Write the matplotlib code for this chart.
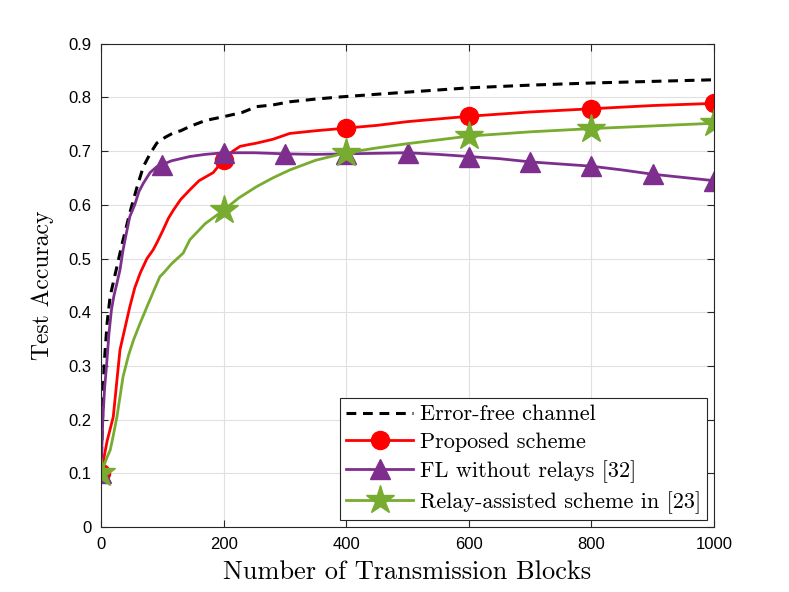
import matplotlib
matplotlib.use("Agg")
import matplotlib.pyplot as plt
import numpy as np

# values
blocks_ef = [0, 5, 10, 15, 25, 35, 47, 58, 69, 80, 91, 105, 118, 130, 145, 170, 199, 230, 254, 280, 308, 350, 390, 450, 500, 600, 700, 800, 900, 1000]
acc_ef = [0.10, 0.30, 0.38, 0.43, 0.48, 0.53, 0.585, 0.63, 0.671, 0.695, 0.715, 0.726, 0.734, 0.738, 0.746, 0.757, 0.764, 0.772, 0.783, 0.786, 0.792, 0.797, 0.801, 0.806, 0.81, 0.818, 0.823, 0.827, 0.830, 0.833]

blocks_prop = [0, 5, 10, 20, 31, 40, 47, 55, 64, 75, 85, 91, 100, 110, 118, 130, 145, 160, 183, 200, 215, 227, 240, 254, 280, 308, 350, 400, 450, 500, 600, 700, 800, 900, 1000]
acc_prop = [0.10, 0.13, 0.16, 0.205, 0.33, 0.375, 0.41, 0.445, 0.473, 0.50, 0.516, 0.529, 0.55, 0.575, 0.59, 0.61, 0.628, 0.645, 0.66, 0.684, 0.70, 0.709, 0.712, 0.715, 0.722, 0.733, 0.738, 0.743, 0.748, 0.755, 0.765, 0.773, 0.779, 0.785, 0.789]

blocks_norelay = [0, 3, 6, 9, 13, 17, 21, 26, 31, 36, 41, 47, 55, 62, 69, 80, 91, 100, 115, 130, 145, 170, 200, 250, 300, 350, 400, 450, 500, 550, 600, 650, 700, 750, 800, 850, 900, 950, 1000]
acc_norelay = [0.10, 0.20, 0.26, 0.30, 0.36, 0.404, 0.43, 0.454, 0.479, 0.516, 0.545, 0.578, 0.60, 0.625, 0.64, 0.66, 0.671, 0.675, 0.682, 0.686, 0.69, 0.694, 0.697, 0.697, 0.695, 0.694, 0.695, 0.696, 0.697, 0.694, 0.690, 0.686, 0.680, 0.676, 0.672, 0.665, 0.657, 0.651, 0.645]

blocks_relay = [0, 5, 10, 15, 20, 26, 36, 45, 53, 64, 75, 88, 96, 102, 115, 134, 145, 170, 200, 225, 254, 280, 308, 350, 400, 450, 500, 550, 600, 700, 800, 900, 1000]
acc_relay = [0.10, 0.115, 0.13, 0.143, 0.17, 0.205, 0.28, 0.32, 0.348, 0.38, 0.41, 0.445, 0.466, 0.473, 0.49, 0.51, 0.535, 0.565, 0.59, 0.613, 0.634, 0.65, 0.665, 0.683, 0.697, 0.706, 0.714, 0.721, 0.728, 0.736, 0.742, 0.747, 0.752]

x_ticks = [0, 200, 400, 600, 800, 1000]
y_ticks = [0, 0.1, 0.2, 0.3, 0.4, 0.5, 0.6, 0.7, 0.8, 0.9]


def mark_at(bx, marks):
    return [int(np.argmin(np.abs(np.array(bx) - m))) for m in marks]


def main():
    fig = plt.figure(figsize=(7.89, 5.92), dpi=100)
    ax = fig.add_axes([0.128, 0.110, 0.777, 0.816])

    red = '#FF0000'
    purple = '#7E2F8E'
    green = '#77AC30'

    ax.plot(blocks_ef, acc_ef, '--', color='k', lw=2.2, dashes=(3.2, 2.2),
            label='Error-free channel')
    ax.plot(blocks_prop, acc_prop, '-', color=red, lw=2, marker='o', ms=13,
            markevery=mark_at(blocks_prop, [0, 200, 400, 600, 800, 1000]),
            label='Proposed scheme')
    ax.plot(blocks_norelay, acc_norelay, '-', color=purple, lw=2, marker='^', ms=14,
            markevery=mark_at(blocks_norelay, range(0, 1001, 100)),
            label='FL without relays [32]')
    ax.plot(blocks_relay, acc_relay, '-', color=green, lw=2, marker='*', ms=21,
            markevery=mark_at(blocks_relay, [0, 200, 400, 600, 800, 1000]),
            label='Relay-assisted scheme in [23]')

    ax.set_xlim(0, 1000)
    ax.set_ylim(0, 0.9)
    ax.set_xticks(x_ticks)
    ax.set_yticks(y_ticks)
    ax.set_yticklabels(['0'] + ['%.1f' % v for v in y_ticks[1:]])
    ax.grid(True, color='#e0e0e0', lw=0.8)
    ax.set_axisbelow(True)
    ax.tick_params(direction='in', length=5, labelsize=12, top=True, right=True,
                   colors='#262626', labelcolor='black', pad=7)
    for lab in ax.get_xticklabels() + ax.get_yticklabels():
        lab.set_fontfamily('Liberation Sans')
    for s in ax.spines.values():
        s.set_color('#262626')
        s.set_linewidth(0.8)

    ax.set_xlabel('Number of Transmission Blocks', fontfamily='cmr10', fontsize=19, labelpad=6)
    ax.set_ylabel('Test Accuracy', fontfamily='cmr10', fontsize=17, labelpad=10)

    leg = ax.legend(loc='lower right', prop={'family': 'cmr10', 'size': 16},
                    fancybox=False, framealpha=1, edgecolor='#262626',
                    handlelength=3.0, borderpad=0.3, labelspacing=0.36,
                    handletextpad=0.3, borderaxespad=0.3)
    leg.get_frame().set_linewidth(0.8)

    fig.savefig('out.png', dpi=100)


if __name__ == "__main__":
    main()
